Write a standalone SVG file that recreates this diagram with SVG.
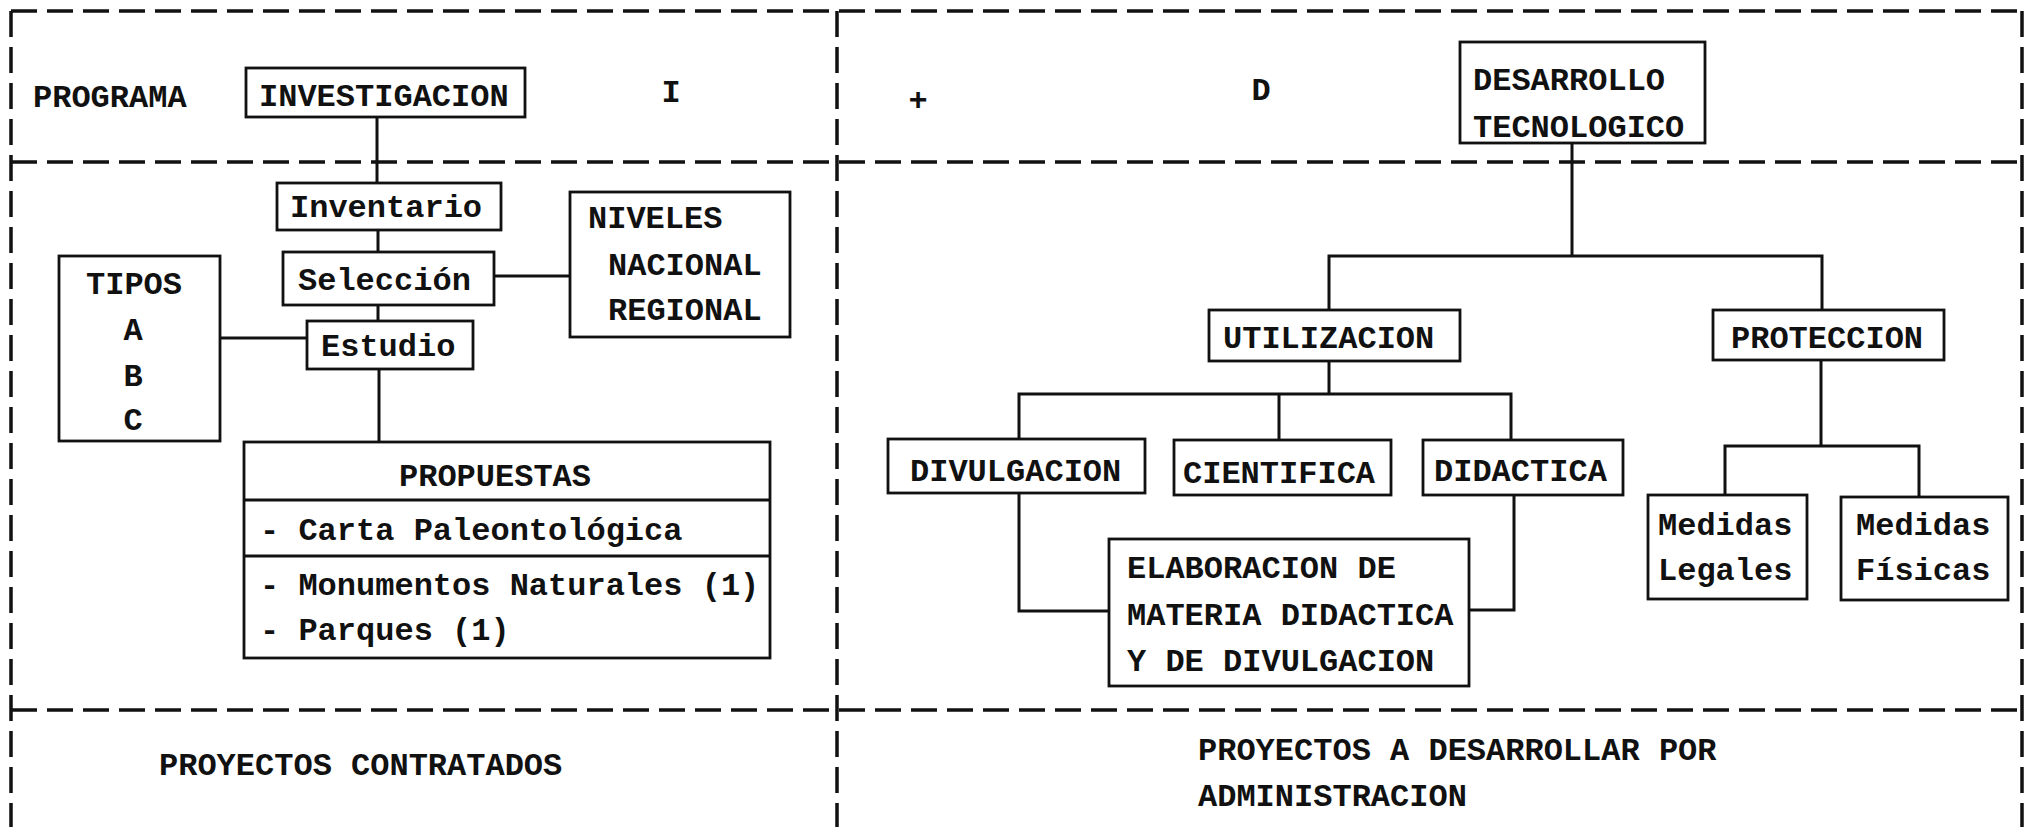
<svg xmlns="http://www.w3.org/2000/svg" width="2031" height="827" viewBox="0 0 2031 827">
<style>
.bg{fill:#ffffff}
.frame{fill:none;stroke:#111;stroke-width:3.5;stroke-dasharray:26 10}
.box{fill:#fff;stroke:#111;stroke-width:2.8}
.sep{stroke:#111;stroke-width:3.2}
.con{fill:none;stroke:#111;stroke-width:3}
text{font-family:"Liberation Mono","Courier New",monospace;font-size:32px;font-weight:bold;fill:#111}
</style>
<rect class="bg" x="0" y="0" width="2031" height="827"/>
<g id="frame">
<line class="frame" x1="11" y1="11" x2="2022" y2="11"/>
<line class="frame" x1="11" y1="11" x2="11" y2="827"/>
<line class="frame" x1="2022" y1="11" x2="2022" y2="827"/>
<line class="frame" x1="11" y1="162" x2="2022" y2="162"/>
<line class="frame" x1="11" y1="710" x2="2022" y2="710"/>
<line class="frame" x1="837" y1="11" x2="837" y2="827"/>
</g>
<g id="connectors">
<line class="con" x1="377" y1="117" x2="377" y2="183"/>
<line class="con" x1="378" y1="230" x2="378" y2="252"/>
<line class="con" x1="378" y1="305" x2="378" y2="321"/>
<line class="con" x1="494" y1="276" x2="570" y2="276"/>
<line class="con" x1="220" y1="338" x2="307" y2="338"/>
<line class="con" x1="379" y1="369" x2="379" y2="442"/>
<line class="con" x1="1572" y1="143" x2="1572" y2="256"/>
<polyline class="con" points="1329,310 1329,256 1822,256 1822,310"/>
<line class="con" x1="1329" y1="361" x2="1329" y2="394"/>
<polyline class="con" points="1019,439 1019,394 1511,394 1511,440"/>
<line class="con" x1="1279" y1="394" x2="1279" y2="440"/>
<polyline class="con" points="1019,493 1019,611 1109,611"/>
<polyline class="con" points="1514,495 1514,610 1469,610"/>
<line class="con" x1="1821" y1="360" x2="1821" y2="446"/>
<polyline class="con" points="1725,495 1725,446 1919,446 1919,497"/>
</g>
<g id="labels">
<text x="33" y="107">PROGRAMA</text>
<text x="671" y="102" text-anchor="middle">I</text>
<text x="918" y="110" text-anchor="middle">+</text>
<text x="1261" y="100" text-anchor="middle">D</text>
<text x="159" y="775">PROYECTOS CONTRATADOS</text>
<text x="1198" y="760">PROYECTOS A DESARROLLAR POR</text>
<text x="1198" y="806">ADMINISTRACION</text>
</g>
<g id="investigacion">
<rect class="box" x="246" y="68" width="279" height="49"/>
<text x="259" y="106">INVESTIGACION</text>
</g>
<g id="inventario">
<rect class="box" x="277" y="183" width="224" height="47"/>
<text x="290" y="217">Inventario</text>
</g>
<g id="seleccion">
<rect class="box" x="283" y="252" width="211" height="53"/>
<text x="298" y="290">Selección</text>
</g>
<g id="estudio">
<rect class="box" x="307" y="321" width="166" height="48"/>
<text x="321" y="356">Estudio</text>
</g>
<g id="niveles">
<rect class="box" x="570" y="192" width="220" height="145"/>
<text x="588" y="228">NIVELES</text>
<text x="608" y="275">NACIONAL</text>
<text x="608" y="320">REGIONAL</text>
</g>
<g id="tipos">
<rect class="box" x="59" y="256" width="161" height="185"/>
<text x="86" y="294">TIPOS</text>
<text x="133" y="340" text-anchor="middle">A</text>
<text x="133" y="386" text-anchor="middle">B</text>
<text x="133" y="430" text-anchor="middle">C</text>
</g>
<g id="propuestas">
<rect class="box" x="244" y="442" width="526" height="216"/>
<line class="sep" x1="244" y1="500" x2="770" y2="500"/>
<line class="sep" x1="244" y1="556" x2="770" y2="556"/>
<text x="495" y="486" text-anchor="middle">PROPUESTAS</text>
<text x="260" y="540">- Carta Paleontológica</text>
<text x="260" y="595">- Monumentos Naturales (1)</text>
<text x="260" y="640">- Parques (1)</text>
</g>
<g id="desarrollo">
<rect class="box" x="1460" y="42" width="245" height="101"/>
<text x="1473" y="90">DESARROLLO</text>
<text x="1473" y="137">TECNOLOGICO</text>
</g>
<g id="utilizacion">
<rect class="box" x="1209" y="310" width="251" height="51"/>
<text x="1223" y="348">UTILIZACION</text>
</g>
<g id="proteccion">
<rect class="box" x="1713" y="310" width="231" height="50"/>
<text x="1731" y="348">PROTECCION</text>
</g>
<g id="divulgacion">
<rect class="box" x="888" y="439" width="257" height="54"/>
<text x="910" y="481">DIVULGACION</text>
</g>
<g id="cientifica">
<rect class="box" x="1174" y="440" width="217" height="55"/>
<text x="1183" y="483">CIENTIFICA</text>
</g>
<g id="didactica">
<rect class="box" x="1423" y="440" width="200" height="55"/>
<text x="1434" y="481">DIDACTICA</text>
</g>
<g id="elaboracion">
<rect class="box" x="1109" y="539" width="360" height="147"/>
<text x="1127" y="578">ELABORACION DE</text>
<text x="1127" y="625">MATERIA DIDACTICA</text>
<text x="1127" y="671">Y DE DIVULGACION</text>
</g>
<g id="medidas-legales">
<rect class="box" x="1648" y="495" width="159" height="104"/>
<text x="1658" y="535">Medidas</text>
<text x="1658" y="580">Legales</text>
</g>
<g id="medidas-fisicas">
<rect class="box" x="1841" y="497" width="167" height="103"/>
<text x="1856" y="535">Medidas</text>
<text x="1856" y="580">Físicas</text>
</g>
</svg>
